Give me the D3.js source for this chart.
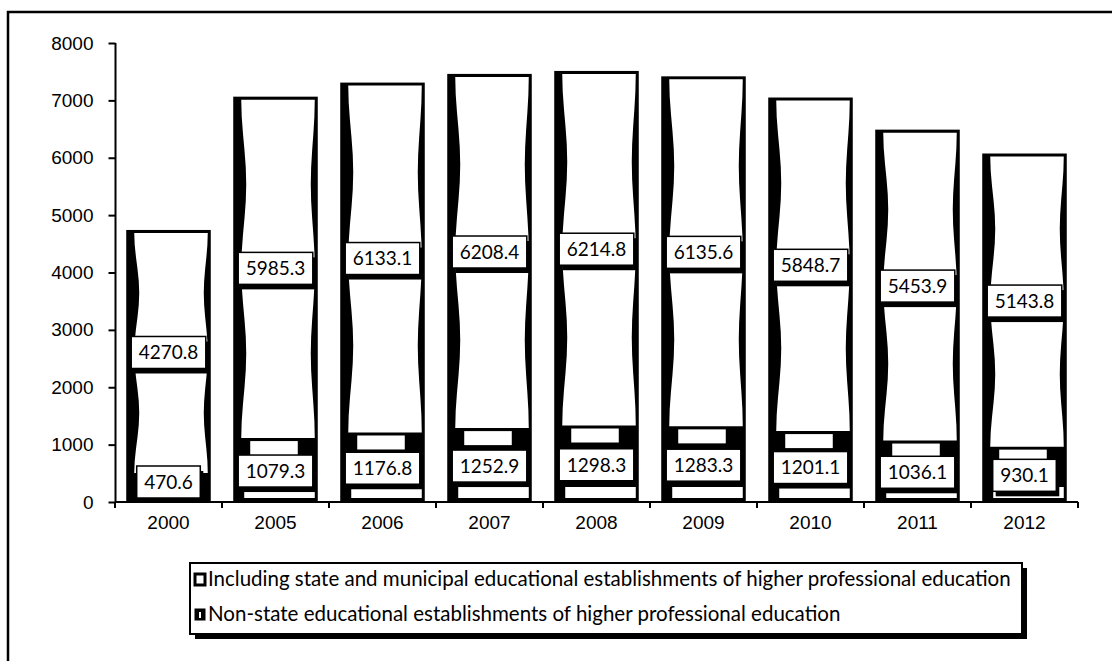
<!DOCTYPE html>
<html>
<head>
<meta charset="utf-8">
<script src="https://cdn.jsdelivr.net/npm/d3@7"></script>
<style>
  body { margin: 0; background: #fff; }
  svg { display: block; font-family: Lato, "Open Sans", sans-serif; }
</style>
</head>
<body>
<div id="chart"></div>
<script>
"use strict"

// chart values
let years = ['2000', '2005', '2006', '2007', '2008', '2009', '2010', '2011', '2012'];
let nonStateVals = [470.6, 1079.3, 1176.8, 1252.9, 1298.3, 1283.3, 1201.1, 1036.1, 930.1];
let stateVals = [4270.8, 5985.3, 6133.1, 6208.4, 6214.8, 6135.6, 5848.7, 5453.9, 5143.8];
let yTicks = [0, 1000, 2000, 3000, 4000, 5000, 6000, 7000, 8000];
let legendLabels = [
    'Including state and municipal educational establishments of higher professional education',
    'Non-state educational establishments of higher professional education'
];

let width = 1112,
    height = 661;

let svg = d3.select('#chart')
    .append('svg')
    .attr('width', width)
    .attr('height', height);

// outer frame (only top and left visible)
svg.append('path')
    .attr('d', 'M8,' + (height + 5) + 'V12H' + (width + 5))
    .attr('fill', 'none')
    .attr('stroke', '#000')
    .attr('stroke-width', 2.5);

// build the stacked rows
let rows = years.map(function (yr, i) {
    return { year: yr, nonState: nonStateVals[i], state: stateVals[i] };
});
let stack = d3.stack().keys(['nonState', 'state']);
let series = stack(rows);

let x = d3.scaleBand()
    .domain(years)
    .range([115, 1078])
    .paddingInner(0.21)
    .paddingOuter(0.105);

let y = d3.scaleLinear()
    .domain([0, 8000])
    .range([502, 43]);

let g = svg.append('g');

// black body of each bar (full stack)
g.selectAll('rect.body')
    .data(rows)
    .enter()
    .append('rect')
    .attr('class', 'body')
    .attr('x', function (d) { return x(d.year); })
    .attr('y', function (d) { return y(d.nonState + d.state); })
    .attr('width', x.bandwidth())
    .attr('height', function (d) { return y(0) - y(d.nonState + d.state); })
    .attr('fill', '#000');

// white hourglass interior of the upper (state) segment
let lineGen = d3.line();
function hourglass(x0, x1, yTop, yBot) {
    let ts = d3.range(0, 1.0001, 0.05);
    let left = ts.map(function (t) {
        let s = Math.pow(Math.sin(2 * Math.PI * t), 2);
        return [x0 + 8 + 5 * s, yTop + (yBot - yTop) * t];
    });
    let right = ts.slice().reverse().map(function (t) {
        let s = Math.pow(Math.sin(2 * Math.PI * t), 2);
        return [x1 - 3 - 4 * s, yTop + (yBot - yTop) * t];
    });
    return lineGen(left.concat(right)) + 'Z';
}

g.selectAll('path.upper')
    .data(series[1])
    .enter()
    .append('path')
    .attr('class', 'upper')
    .attr('d', function (d) {
        let x0 = x(d.data.year);
        return hourglass(x0, x0 + x.bandwidth(), y(d[1]) + 3, y(d[0]) - 2);
    })
    .attr('fill', '#fff');

// white highlights of the lower (non-state) segment
let lower = series[0];
g.selectAll('rect.lowTop')
    .data(lower.filter(function (d) { return y(d[0]) - y(d[1]) > 40; }))
    .enter()
    .append('rect')
    .attr('class', 'lowTop')
    .attr('x', function (d) { return x(d.data.year) + 17; })
    .attr('y', function (d) { return y(d[1]) + 1; })
    .attr('width', x.bandwidth() - 37)
    .attr('height', 14)
    .attr('fill', '#fff');

g.selectAll('rect.lowBot')
    .data(lower.filter(function (d) { return y(d[0]) - y(d[1]) > 40; }))
    .enter()
    .append('rect')
    .attr('class', 'lowBot')
    .attr('x', function (d) { return x(d.data.year) + 11; })
    .attr('y', y(0) - 15)
    .attr('width', x.bandwidth() - 14)
    .attr('height', 11)
    .attr('fill', '#fff');

// value labels
function addLabels(data, cls) {
    let lab = g.selectAll('g.' + cls)
        .data(data)
        .enter()
        .append('g')
        .attr('class', cls)
        .attr('transform', function (d) {
            let cy = (y(d[0]) + y(d[1])) / 2;
            cy = Math.min(cy, y(0) - 20);
            return 'translate(' + (x(d.data.year) + x.bandwidth() / 2) + ',' + cy + ')';
        });
    lab.each(function (d) {
        let sel = d3.select(this);
        let txt = d3.format('.1f')(d[1] - d[0]);
        let t = sel.append('text')
            .text(txt)
            .attr('text-anchor', 'middle')
            .attr('dy', '0.36em')
            .style('font-size', '19px')
            .attr('fill', '#000');
        let w = t.node().getComputedTextLength() + 15;
        sel.insert('rect', 'text')
            .attr('x', -w / 2 + 3)
            .attr('y', -16 + 5)
            .attr('width', w)
            .attr('height', 32)
            .attr('fill', '#000');
        sel.insert('rect', 'text')
            .attr('x', -w / 2)
            .attr('y', -16)
            .attr('width', w)
            .attr('height', 32)
            .attr('fill', '#fff')
            .attr('stroke', '#000')
            .attr('stroke-width', 1.5);
    });
}
addLabels(series[1], 'labState');
addLabels(series[0], 'labNon');

// y axis
let yAxis = svg.append('g')
    .attr('transform', 'translate(115.5,0)')
    .call(d3.axisLeft(y).tickValues(yTicks).tickSize(7).tickPadding(15).tickFormat(d3.format('d')));
yAxis.select('.domain').attr('stroke-width', 2).attr('d', 'M0,' + y(8000) + 'V' + y(0));
yAxis.selectAll('.tick line').attr('stroke-width', 2);
yAxis.selectAll('.tick text').style('font-size', '19px').attr('fill', '#000');

// x axis
let xAxis = svg.append('g')
    .attr('transform', 'translate(0,' + y(0) + ')')
    .call(d3.axisBottom(x).tickSize(0).tickPadding(14));
xAxis.select('.domain').attr('stroke-width', 2).attr('d', 'M115,0H' + 1078);
xAxis.selectAll('.tick text').style('font-size', '19px').attr('fill', '#000');

// category separator ticks
let step = x.step();
let seps = years.map(function (yr) { return x(yr) - step * x.paddingInner() / 2; });
seps.push(x(years[years.length - 1]) + x.bandwidth() + step * x.paddingInner() / 2);
xAxis.selectAll('line.sep')
    .data(seps)
    .enter()
    .append('line')
    .attr('class', 'sep')
    .attr('x1', function (d) { return d; })
    .attr('x2', function (d) { return d; })
    .attr('y1', 0)
    .attr('y2', 6)
    .attr('stroke', '#000')
    .attr('stroke-width', 2);

// legend
let legend = svg.append('g').attr('transform', 'translate(190,563)');
legend.append('rect')
    .attr('x', 5).attr('y', 5)
    .attr('width', 832).attr('height', 71)
    .attr('fill', '#000');
legend.append('rect')
    .attr('x', 0).attr('y', 0)
    .attr('width', 832).attr('height', 71)
    .attr('fill', '#fff')
    .attr('stroke', '#000')
    .attr('stroke-width', 2);

let items = legend.selectAll('g.item')
    .data(legendLabels)
    .enter()
    .append('g')
    .attr('class', 'item')
    .attr('transform', function (d, i) { return 'translate(5,' + (16 + i * 35) + ')'; });

items.append('rect')
    .attr('x', 0).attr('y', -5)
    .attr('width', 10).attr('height', 11)
    .attr('fill', function (d, i) { return i === 0 ? '#fff' : '#000'; })
    .attr('stroke', '#000')
    .attr('stroke-width', function (d, i) { return i === 0 ? 3 : 1; });
items.filter(function (d, i) { return i === 1; })
    .append('rect')
    .attr('x', 4).attr('y', -2)
    .attr('width', 2).attr('height', 6)
    .attr('fill', '#fff');

items.append('text')
    .text(function (d) { return d; })
    .attr('x', 13)
    .attr('dy', '0.36em')
    .style('font-size', '20.5px')
    .attr('fill', '#000');
</script>
</body>
</html>
